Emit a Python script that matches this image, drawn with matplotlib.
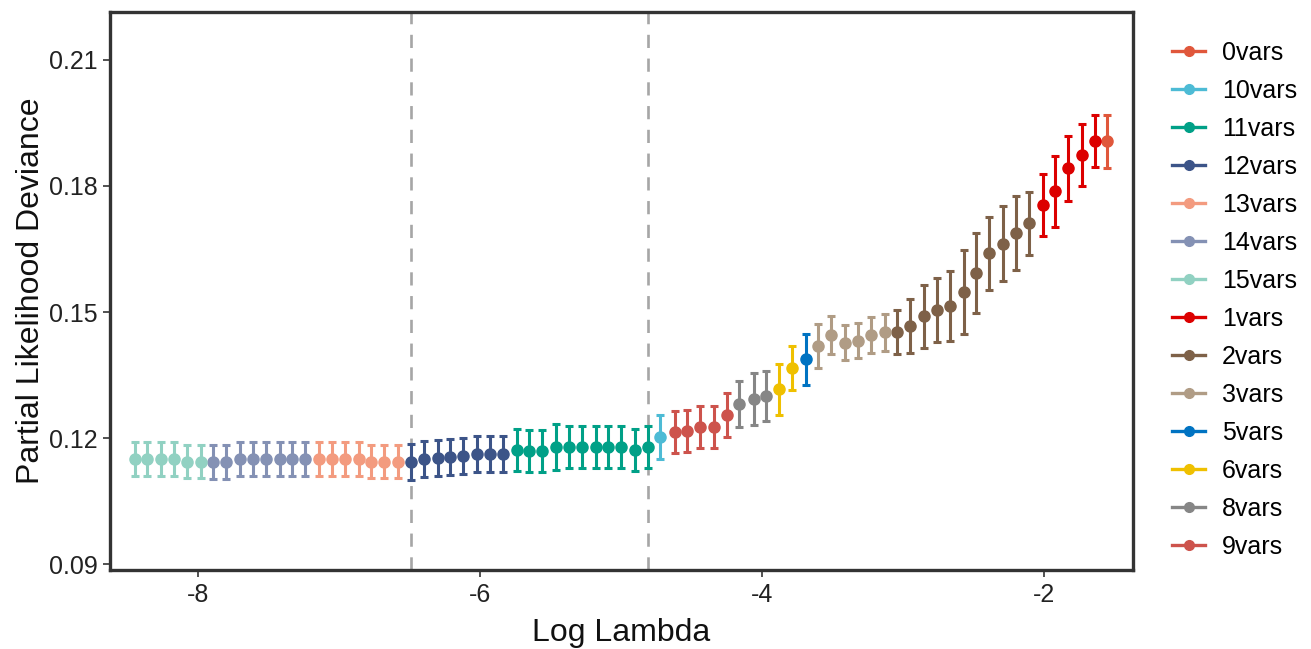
import matplotlib
matplotlib.use("Agg")
import matplotlib.pyplot as plt
from matplotlib.lines import Line2D

# ===================== Datos =====================

log_lambda = [-8.45, -8.36, -8.26, -8.17, -8.08, -7.98, -7.89, -7.80, -7.70, -7.61,
              -7.52, -7.42, -7.33, -7.24, -7.14, -7.05, -6.96, -6.86, -6.77, -6.68,
              -6.58, -6.49, -6.40, -6.30, -6.21, -6.12, -6.02, -5.93, -5.84, -5.74,
              -5.65, -5.56, -5.46, -5.37, -5.28, -5.18, -5.09, -5.00, -4.90, -4.81,
              -4.72, -4.62, -4.53, -4.44, -4.34, -4.25, -4.16, -4.06, -3.97, -3.88,
              -3.79, -3.69, -3.60, -3.51, -3.41, -3.32, -3.23, -3.13, -3.04, -2.95,
              -2.85, -2.76, -2.67, -2.57, -2.48, -2.39, -2.29, -2.20, -2.11, -2.01,
              -1.92, -1.83, -1.73, -1.64, -1.55]

cvm = [0.1150, 0.1150, 0.1150, 0.1150, 0.1144, 0.1144,
       0.1143, 0.1143, 0.1150, 0.1150, 0.1150, 0.1150, 0.1150, 0.1150,
       0.1150, 0.1150, 0.1150, 0.1150, 0.1144, 0.1144, 0.1144,
       0.1144, 0.1150, 0.1152, 0.1155, 0.1157, 0.1162, 0.1163, 0.1163,
       0.1171, 0.1170, 0.1170, 0.1178, 0.1178, 0.1178, 0.1179, 0.1179, 0.1178, 0.1171, 0.1178,
       0.1202,
       0.1215, 0.1217, 0.1226, 0.1227, 0.1255,
       0.1281, 0.1293, 0.1300,
       0.1316, 0.1366,
       0.1387,
       0.1419, 0.1445, 0.1427, 0.1432, 0.1445, 0.1452,
       0.1453, 0.1467, 0.1490, 0.1505, 0.1514, 0.1548, 0.1592, 0.1640, 0.1663, 0.1687, 0.1711,
       0.1755, 0.1787, 0.1842, 0.1874, 0.1906,
       0.1906]

cvsd = [0.0040, 0.0040, 0.0040, 0.0040, 0.0040, 0.0040,
        0.0040, 0.0040, 0.0040, 0.0040, 0.0040, 0.0040, 0.0040, 0.0040,
        0.0040, 0.0040, 0.0040, 0.0040, 0.0040, 0.0040, 0.0040,
        0.0043, 0.0043, 0.0043, 0.0043, 0.0043, 0.0043, 0.0043, 0.0043,
        0.0050, 0.0050, 0.0050, 0.0055, 0.0050, 0.0050, 0.0050, 0.0050, 0.0050, 0.0050, 0.0050,
        0.0052,
        0.0050, 0.0050, 0.0050, 0.0050, 0.0053,
        0.0054, 0.0062, 0.0060,
        0.0061, 0.0052,
        0.0061,
        0.0052, 0.0045, 0.0041, 0.0041, 0.0043, 0.0044,
        0.0052, 0.0064, 0.0075, 0.0077, 0.0083, 0.0100, 0.0095, 0.0087, 0.0090, 0.0088, 0.0075,
        0.0074, 0.0084, 0.0078, 0.0073, 0.0062,
        0.0064]

# numero de variables en cada punto
nvars = (["15vars"] * 6 + ["14vars"] * 8 + ["13vars"] * 7 + ["12vars"] * 8 +
         ["11vars"] * 11 + ["10vars"] + ["9vars"] * 5 + ["8vars"] * 3 +
         ["6vars"] * 2 + ["5vars"] + ["3vars"] * 6 + ["2vars"] * 11 +
         ["1vars"] * 5 + ["0vars"])

legend_order = ["0vars", "10vars", "11vars", "12vars", "13vars", "14vars", "15vars",
                "1vars", "2vars", "3vars", "5vars", "6vars", "8vars", "9vars"]

colores = {
    "0vars": "#E0573B", "10vars": "#4DBBD5", "11vars": "#00A087", "12vars": "#3C5488",
    "13vars": "#F39B7F", "14vars": "#8491B4", "15vars": "#91D1C2", "1vars": "#DC0000",
    "2vars": "#7E6148", "3vars": "#B09C85", "5vars": "#0073C2", "6vars": "#EFC000",
    "8vars": "#868686", "9vars": "#CD534C",
}

lambda_min = -6.49
lambda_1se = -4.81

# ===================== Grafico =====================

plt.rcParams['font.family'] = ['Liberation Sans', 'DejaVu Sans']

fig = plt.figure(figsize=(13.11, 6.49), dpi=100)
ax = fig.add_axes([110 / 1311, 1 - 570 / 649, (1133 - 110) / 1311, (570 - 12) / 649])

for g in legend_order:
    idx = [i for i, v in enumerate(nvars) if v == g]
    xs = [log_lambda[i] for i in idx]
    ys = [cvm[i] for i in idx]
    es = [cvsd[i] for i in idx]
    ax.errorbar(xs, ys, yerr=es, fmt='o', color=colores[g], ms=8,
                elinewidth=2.2, capsize=3.2, capthick=2.2, zorder=3)

ax.axvline(lambda_min, color='#A6A6A6', lw=1.9, ls=(0, (5, 4)), zorder=1)
ax.axvline(lambda_1se, color='#A6A6A6', lw=1.9, ls=(0, (5, 4)), zorder=1)

ax.set_xlim(-8.624, -1.369)
ax.set_ylim(0.0886, 0.2214)
ax.set_xticks([-8, -6, -4, -2])
ax.set_xticklabels(['-8', '-6', '-4', '-2'])
ax.set_yticks([0.09, 0.12, 0.15, 0.18, 0.21])
ax.set_yticklabels(['0.09', '0.12', '0.15', '0.18', '0.21'])

for s in ax.spines.values():
    s.set_linewidth(2.4)
    s.set_color('#333333')
ax.tick_params(axis='both', direction='out', length=5, width=1.2, color='#333333',
               labelsize=18, labelcolor='#222222', pad=4)

ax.set_xlabel("Log Lambda", fontsize=23, color='#111111', labelpad=8)
ax.set_ylabel("Partial Likelihood Deviance", fontsize=23, color='#111111', labelpad=2)

handles = [Line2D([0], [0], color=colores[g], lw=2.4, marker='o', ms=7) for g in legend_order]
fig.legend(handles, legend_order, loc='upper left', bbox_to_anchor=(1162 / 1311, 1 - 31 / 649),
           frameon=False, fontsize=18, labelspacing=0.56, handlelength=1.32,
           handletextpad=0.68, borderaxespad=0)

plt.savefig("out.png", dpi=100)
